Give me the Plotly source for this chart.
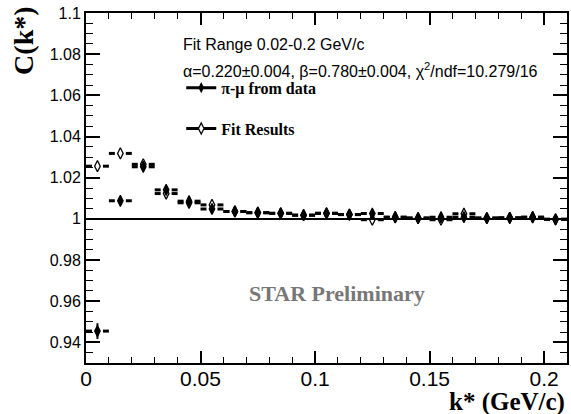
import numpy as np
import plotly.graph_objects as go

# k* bin centres (GeV/c) and half-width of the bins
k_star = [0.005, 0.015, 0.025, 0.035, 0.045, 0.055, 0.065, 0.075, 0.085, 0.095, 0.105,
          0.115, 0.125, 0.135, 0.145, 0.155, 0.165, 0.175, 0.185, 0.195, 0.205]
k_half = 0.005

# pi-mu correlation function from data
c_data = [0.9455, 1.0088, 1.0253, 1.0141, 1.0086, 1.0048, 1.0036, 1.0030, 1.0027, 1.0018, 1.0027,
          1.0021, 1.0026, 1.0008, 1.0004, 1.0008, 1.0008, 1.0004, 1.0005, 1.0008, 0.9998]
c_data_err = [0.0038, 0.0010, 0.0008, 0.0007, 0.0006, 0.0006, 0.0005, 0.0005, 0.0005, 0.0005, 0.0005,
              0.0005, 0.0005, 0.0005, 0.0005, 0.0005, 0.0005, 0.0005, 0.0005, 0.0005, 0.0005]

# fit results
c_fit = [1.0256, 1.0318, 1.0265, 1.0123, 1.0078, 1.0068, 1.0036, 1.0030, 1.0027, 1.0018, 1.0027,
         1.0021, 0.9996, 1.0008, 1.0004, 0.9996, 1.0025, 1.0004, 1.0005, 1.0008, 0.9998]

SANS = "Liberation Sans, Arial, sans-serif"
SERIF = "Liberation Serif, Times New Roman, serif"


def bar_segments(x, y, half, gap):
    # horizontal error bars with a gap around the marker (ROOT style)
    xs, ys = [], []
    for xi, yi in zip(x, y):
        xs += [xi - half, xi - gap, None, xi + gap, xi + half, None]
        ys += [yi, yi, None, yi, yi, None]
    return xs, ys


fig = go.Figure()

fx, fy = bar_segments(k_star, c_fit, k_half, 0.0024)
fig.add_trace(go.Scatter(x=fx, y=fy, mode="lines", line=dict(color="black", width=3),
                         showlegend=False, hoverinfo="skip"))
dx, dy = bar_segments(k_star, c_data, k_half, 0.0024)
fig.add_trace(go.Scatter(x=dx, y=dy, mode="lines", line=dict(color="black", width=3),
                         showlegend=False, hoverinfo="skip"))

fig.add_trace(go.Scatter(
    x=k_star, y=c_data, mode="markers",
    marker=dict(symbol="diamond-tall", size=8, color="black", line=dict(color="black", width=1.2)),
    error_y=dict(type="data", array=c_data_err, color="black", thickness=2, width=0),
    showlegend=False))
fig.add_trace(go.Scatter(
    x=k_star, y=c_fit, mode="markers",
    marker=dict(symbol="diamond-tall-open", size=8, color="black", line=dict(color="black", width=1.3)),
    showlegend=False))

# legend entries
fig.add_trace(go.Scatter(x=[None], y=[None], mode="lines+markers", name="<b>π-μ from data</b>",
                         legendgroup="a",
                         line=dict(color="black", width=3),
                         marker=dict(symbol="diamond-tall", size=8, color="black")))
fig.add_trace(go.Scatter(x=[None], y=[None], mode="lines+markers", name="<b>Fit Results</b>",
                         legendgroup="b",
                         line=dict(color="black", width=3),
                         marker=dict(symbol="diamond-tall", size=8, color="white",
                                     line=dict(color="black", width=1.3))))

fig.add_hline(y=1, line=dict(color="black", width=2), layer="below")

fig.add_annotation(text="Fit Range 0.02-0.2 GeV/c", xref="paper", yref="paper",
                   x=0.1975, y=0.911, xanchor="left", yanchor="middle", showarrow=False,
                   font=dict(family=SANS, size=16, color="black"))
fig.add_annotation(text="α=0.220±0.004, β=0.780±0.004, χ<sup>2</sup>/ndf=10.279/16",
                   xref="paper", yref="paper", x=0.1975, y=0.837, xanchor="left",
                   yanchor="middle", showarrow=False,
                   font=dict(family=SANS, size=16, color="black"))
fig.add_annotation(text="<b>STAR Preliminary</b>", xref="paper", yref="paper",
                   x=0.521, y=0.2, xanchor="center", yanchor="middle", showarrow=False,
                   font=dict(family=SERIF, size=22, color="#777777"))
fig.add_annotation(text="<b>k* (GeV/c)</b>", xref="paper", yref="paper",
                   x=1.0, y=-0.112, xanchor="right", yanchor="middle", showarrow=False,
                   font=dict(family=SERIF, size=25, color="black"))
fig.add_annotation(text="<b>C(k*)</b>", xref="paper", yref="paper", textangle=-90,
                   x=-0.129, y=1.023, xanchor="center", yanchor="top", showarrow=False,
                   font=dict(family=SERIF, size=28, color="black"))

fig.update_layout(
    width=571, height=414,
    margin=dict(l=86, r=4, t=13, b=51, autoexpand=False),
    paper_bgcolor="white", plot_bgcolor="white",
    showlegend=True,
    legend=dict(x=0.198, y=0.835, xanchor="left", yanchor="top",
                bgcolor="rgba(0,0,0,0)", tracegroupgap=17, itemwidth=30,
                traceorder="grouped",
                font=dict(family=SERIF, size=16, color="black")),
    xaxis=dict(range=[0, 0.21], tick0=0, dtick=0.05, ticks="inside", ticklen=12,
               tickwidth=1.5, tickcolor="black", showline=True, linewidth=2,
               linecolor="black", mirror="allticks", showgrid=False, zeroline=False,
               automargin=False, ticklabelstandoff=-4,
               tickfont=dict(family=SANS, size=21, color="black"),
               minor=dict(ticks="inside", dtick=0.01, ticklen=6, tickwidth=1,
                          tickcolor="black", showgrid=False)),
    yaxis=dict(range=[0.93, 1.1], tick0=0, dtick=0.02, ticks="inside", ticklen=14,
               tickwidth=1.5, tickcolor="black", showline=True, linewidth=2,
               linecolor="black", mirror="allticks", showgrid=False, zeroline=False,
               automargin=False,
               tickfont=dict(family=SANS, size=16, color="black"),
               minor=dict(ticks="inside", dtick=0.005, ticklen=7, tickwidth=1,
                          tickcolor="black", showgrid=False)),
)

# drop the browser's default page margin so the figure sits at the window's corner
fig.write_html("out.html", config={"displayModeBar": False},
               post_script="document.body.style.margin='0';")
